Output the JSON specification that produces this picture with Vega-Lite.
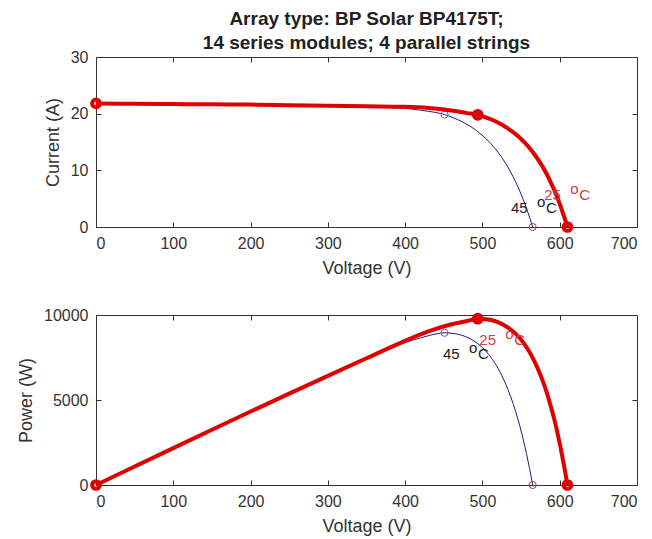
{
  "$schema": "https://vega.github.io/schema/vega-lite/v6.json",
  "background": "white",
  "padding": {"left": 17, "top": 9, "right": 10, "bottom": 2},
  "spacing": 28,
  "config": {
    "font": "Liberation Sans",
    "view": {"stroke": "#333333", "strokeWidth": 1},
    "axis": {
      "grid": false,
      "domainColor": "#333333",
      "tickColor": "#333333",
      "labelColor": "#333333",
      "titleColor": "#333333",
      "labelFont": "Liberation Sans",
      "titleFont": "Liberation Sans",
      "labelFontSize": 16,
      "titleFontSize": 18,
      "titleFontWeight": "normal",
      "tickSize": -5,
      "labelPadding": 13,
      "titlePadding": 8
    }
  },
  "datasets": {
    "iv": [
      {"T": "25", "V": 0, "I": 21.8, "P": 0},
      {"T": "25", "V": 50, "I": 21.75, "P": 1088},
      {"T": "25", "V": 100, "I": 21.7, "P": 2170},
      {"T": "25", "V": 150, "I": 21.65, "P": 3248},
      {"T": "25", "V": 200, "I": 21.6, "P": 4320},
      {"T": "25", "V": 250, "I": 21.5, "P": 5375},
      {"T": "25", "V": 300, "I": 21.4, "P": 6420},
      {"T": "25", "V": 350, "I": 21.3, "P": 7455},
      {"T": "25", "V": 400, "I": 21.2, "P": 8480},
      {"T": "25", "V": 430, "I": 21.0, "P": 9030},
      {"T": "25", "V": 460, "I": 20.55, "P": 9453},
      {"T": "25", "V": 480, "I": 20.1, "P": 9648},
      {"T": "25", "V": 494, "I": 19.8, "P": 9781},
      {"T": "25", "V": 505, "I": 19.3, "P": 9747},
      {"T": "25", "V": 516, "I": 18.7, "P": 9649},
      {"T": "25", "V": 527, "I": 17.9, "P": 9433},
      {"T": "25", "V": 537, "I": 17.0, "P": 9129},
      {"T": "25", "V": 548, "I": 15.8, "P": 8658},
      {"T": "25", "V": 559, "I": 14.25, "P": 7966},
      {"T": "25", "V": 568, "I": 12.7, "P": 7214},
      {"T": "25", "V": 576, "I": 11.05, "P": 6365},
      {"T": "25", "V": 583, "I": 9.4, "P": 5480},
      {"T": "25", "V": 589, "I": 7.7, "P": 4535},
      {"T": "25", "V": 594, "I": 6.2, "P": 3683},
      {"T": "25", "V": 598, "I": 4.8, "P": 2870},
      {"T": "25", "V": 601, "I": 3.7, "P": 2224},
      {"T": "25", "V": 604, "I": 2.5, "P": 1510},
      {"T": "25", "V": 607, "I": 1.3, "P": 789},
      {"T": "25", "V": 610, "I": 0, "P": 0},
      {"T": "45", "V": 0, "I": 21.85, "P": 0},
      {"T": "45", "V": 50, "I": 21.8, "P": 1090},
      {"T": "45", "V": 100, "I": 21.75, "P": 2175},
      {"T": "45", "V": 150, "I": 21.65, "P": 3248},
      {"T": "45", "V": 200, "I": 21.55, "P": 4310},
      {"T": "45", "V": 250, "I": 21.45, "P": 5363},
      {"T": "45", "V": 300, "I": 21.35, "P": 6405},
      {"T": "45", "V": 350, "I": 21.2, "P": 7420},
      {"T": "45", "V": 400, "I": 20.95, "P": 8380},
      {"T": "45", "V": 420, "I": 20.6, "P": 8652},
      {"T": "45", "V": 440, "I": 20.2, "P": 8888},
      {"T": "45", "V": 451, "I": 19.85, "P": 8952},
      {"T": "45", "V": 462, "I": 19.3, "P": 8917},
      {"T": "45", "V": 473, "I": 18.63, "P": 8812},
      {"T": "45", "V": 484, "I": 17.79, "P": 8610},
      {"T": "45", "V": 494, "I": 16.83, "P": 8314},
      {"T": "45", "V": 505, "I": 15.53, "P": 7843},
      {"T": "45", "V": 516, "I": 13.91, "P": 7178},
      {"T": "45", "V": 525, "I": 12.27, "P": 6442},
      {"T": "45", "V": 533, "I": 10.55, "P": 5623},
      {"T": "45", "V": 540, "I": 8.79, "P": 4747},
      {"T": "45", "V": 546, "I": 7.07, "P": 3860},
      {"T": "45", "V": 551, "I": 5.47, "P": 3014},
      {"T": "45", "V": 555, "I": 4.06, "P": 2253},
      {"T": "45", "V": 559, "I": 2.53, "P": 1414},
      {"T": "45", "V": 563, "I": 0.88, "P": 495},
      {"T": "45", "V": 565, "I": 0, "P": 0}
    ],
    "pts": [
      {"T": "25", "kind": "isc", "V": 0, "I": 21.8, "P": 0},
      {"T": "25", "kind": "mpp", "V": 494, "I": 19.8, "P": 9781},
      {"T": "25", "kind": "voc", "V": 610, "I": 0, "P": 0},
      {"T": "45", "kind": "isc", "V": 0, "I": 21.85, "P": 0},
      {"T": "45", "kind": "mpp", "V": 451, "I": 19.85, "P": 8952},
      {"T": "45", "kind": "voc", "V": 565, "I": 0, "P": 0}
    ],
    "annTop": [
      {"T": "25", "V": 580, "I": 4.8},
      {"T": "45", "V": 537, "I": 2.5}
    ],
    "annBot": [
      {"T": "25", "V": 496, "P": 8260},
      {"T": "45", "V": 449, "P": 7420}
    ]
  },
  "vconcat": [
    {
      "width": 541,
      "height": 170,
      "title": {
        "text": ["Array type: BP Solar BP4175T;", "14 series modules; 4 parallel strings"],
        "font": "Liberation Sans",
        "fontSize": 19,
        "fontWeight": "bold",
        "color": "#222222",
        "anchor": "middle",
        "lineHeight": 24,
        "offset": -4
      },
      "resolve": {"axis": {"x": "independent", "y": "independent"}},
      "layer": [
        {
          "layer": [
            {
              "data": {"name": "iv"},
              "transform": [{"filter": "datum.T == '45'"}],
              "mark": {"type": "line", "color": "#1c1c80", "strokeWidth": 1, "interpolate": "monotone"},
              "encoding": {
                "x": {"field": "V", "type": "quantitative", "scale": {"domain": [0, 700], "nice": false},
                      "axis": {"values": [0, 100, 200, 300, 400, 500, 600, 700], "title": "Voltage (V)"}},
                "y": {"field": "I", "type": "quantitative", "scale": {"domain": [0, 30], "nice": false},
                      "axis": {"values": [0, 10, 20, 30], "title": "Current (A)"}},
                "order": {"field": "V", "type": "quantitative"}
              }
            },
            {
              "data": {"name": "pts"},
              "transform": [{"filter": "datum.T == '45' && datum.kind == 'mpp'"}],
              "mark": {"type": "point", "shape": "circle", "filled": false, "stroke": "#8050c0", "strokeWidth": 1, "size": 50, "opacity": 1},
              "encoding": {"x": {"field": "V", "type": "quantitative"}, "y": {"field": "I", "type": "quantitative"}}
            },
            {
              "data": {"name": "pts"},
              "transform": [{"filter": "datum.T == '45' && datum.kind != 'mpp'"}],
              "mark": {"type": "point", "shape": "circle", "filled": false, "stroke": "#a03858", "strokeWidth": 1, "size": 50, "opacity": 1},
              "encoding": {"x": {"field": "V", "type": "quantitative"}, "y": {"field": "I", "type": "quantitative"}}
            },
            {
              "data": {"name": "iv"},
              "transform": [{"filter": "datum.T == '25'"}],
              "mark": {"type": "line", "color": "#e00000", "strokeWidth": 4, "interpolate": "monotone"},
              "encoding": {
                "x": {"field": "V", "type": "quantitative"},
                "y": {"field": "I", "type": "quantitative"},
                "order": {"field": "V", "type": "quantitative"}
              }
            },
            {
              "data": {"name": "pts"},
              "transform": [{"filter": "datum.T == '25'"}],
              "mark": {"type": "point", "shape": "circle", "filled": false, "stroke": "#e00000", "strokeWidth": 4, "size": 60, "opacity": 1},
              "encoding": {"x": {"field": "V", "type": "quantitative"}, "y": {"field": "I", "type": "quantitative"}}
            },
            {
              "data": {"name": "annTop"},
              "mark": {"type": "text", "align": "left", "baseline": "alphabetic", "fontSize": 15},
              "encoding": {
                "x": {"field": "V", "type": "quantitative"},
                "y": {"field": "I", "type": "quantitative"},
                "text": {"field": "T"},
                "color": {"field": "T", "type": "nominal", "scale": {"domain": ["25", "45"], "range": ["#d23c3c", "#1a1a1a"]}, "legend": null}
              }
            },
            {
              "data": {"name": "annTop"},
              "mark": {"type": "text", "align": "left", "baseline": "alphabetic", "fontSize": 15, "text": "o", "dx": 26, "dy": -6},
              "encoding": {
                "x": {"field": "V", "type": "quantitative"},
                "y": {"field": "I", "type": "quantitative"},
                "color": {"field": "T", "type": "nominal", "legend": null}
              }
            },
            {
              "data": {"name": "annTop"},
              "mark": {"type": "text", "align": "left", "baseline": "alphabetic", "fontSize": 15, "text": "C", "dx": 35},
              "encoding": {
                "x": {"field": "V", "type": "quantitative"},
                "y": {"field": "I", "type": "quantitative"},
                "color": {"field": "T", "type": "nominal", "legend": null}
              }
            }
          ]
        },
        {
          "data": {"name": "pts"},
          "mark": {"type": "point", "opacity": 0},
          "encoding": {
            "x": {"field": "V", "type": "quantitative",
                  "axis": {"orient": "top", "labels": false, "domain": false, "title": null, "values": [100, 200, 300, 400, 500, 600]}},
            "y": {"field": "I", "type": "quantitative",
                  "axis": {"orient": "right", "labels": false, "domain": false, "title": null, "values": [10, 20]}}
          }
        }
      ]
    },
    {
      "width": 541,
      "height": 170,
      "resolve": {"axis": {"x": "independent", "y": "independent"}},
      "layer": [
        {
          "layer": [
            {
              "data": {"name": "iv"},
              "transform": [{"filter": "datum.T == '45'"}],
              "mark": {"type": "line", "color": "#1c1c80", "strokeWidth": 1, "interpolate": "monotone"},
              "encoding": {
                "x": {"field": "V", "type": "quantitative", "scale": {"domain": [0, 700], "nice": false},
                      "axis": {"values": [0, 100, 200, 300, 400, 500, 600, 700], "title": "Voltage (V)"}},
                "y": {"field": "P", "type": "quantitative", "scale": {"domain": [0, 10000], "nice": false},
                      "axis": {"values": [0, 5000, 10000], "format": "d", "title": "Power (W)"}},
                "order": {"field": "V", "type": "quantitative"}
              }
            },
            {
              "data": {"name": "pts"},
              "transform": [{"filter": "datum.T == '45' && datum.kind == 'mpp'"}],
              "mark": {"type": "point", "shape": "circle", "filled": false, "stroke": "#8050c0", "strokeWidth": 1, "size": 50, "opacity": 1},
              "encoding": {"x": {"field": "V", "type": "quantitative"}, "y": {"field": "P", "type": "quantitative"}}
            },
            {
              "data": {"name": "pts"},
              "transform": [{"filter": "datum.T == '45' && datum.kind != 'mpp'"}],
              "mark": {"type": "point", "shape": "circle", "filled": false, "stroke": "#a03858", "strokeWidth": 1, "size": 50, "opacity": 1},
              "encoding": {"x": {"field": "V", "type": "quantitative"}, "y": {"field": "P", "type": "quantitative"}}
            },
            {
              "data": {"name": "iv"},
              "transform": [{"filter": "datum.T == '25'"}],
              "mark": {"type": "line", "color": "#e00000", "strokeWidth": 4, "interpolate": "monotone"},
              "encoding": {
                "x": {"field": "V", "type": "quantitative"},
                "y": {"field": "P", "type": "quantitative"},
                "order": {"field": "V", "type": "quantitative"}
              }
            },
            {
              "data": {"name": "pts"},
              "transform": [{"filter": "datum.T == '25'"}],
              "mark": {"type": "point", "shape": "circle", "filled": false, "stroke": "#e00000", "strokeWidth": 4, "size": 60, "opacity": 1},
              "encoding": {"x": {"field": "V", "type": "quantitative"}, "y": {"field": "P", "type": "quantitative"}}
            },
            {
              "data": {"name": "annBot"},
              "mark": {"type": "text", "align": "left", "baseline": "alphabetic", "fontSize": 15},
              "encoding": {
                "x": {"field": "V", "type": "quantitative"},
                "y": {"field": "P", "type": "quantitative"},
                "text": {"field": "T"},
                "color": {"field": "T", "type": "nominal", "scale": {"domain": ["25", "45"], "range": ["#d23c3c", "#1a1a1a"]}, "legend": null}
              }
            },
            {
              "data": {"name": "annBot"},
              "mark": {"type": "text", "align": "left", "baseline": "alphabetic", "fontSize": 15, "text": "o", "dx": 26, "dy": -6},
              "encoding": {
                "x": {"field": "V", "type": "quantitative"},
                "y": {"field": "P", "type": "quantitative"},
                "color": {"field": "T", "type": "nominal", "legend": null}
              }
            },
            {
              "data": {"name": "annBot"},
              "mark": {"type": "text", "align": "left", "baseline": "alphabetic", "fontSize": 15, "text": "C", "dx": 35},
              "encoding": {
                "x": {"field": "V", "type": "quantitative"},
                "y": {"field": "P", "type": "quantitative"},
                "color": {"field": "T", "type": "nominal", "legend": null}
              }
            }
          ]
        },
        {
          "data": {"name": "pts"},
          "mark": {"type": "point", "opacity": 0},
          "encoding": {
            "x": {"field": "V", "type": "quantitative",
                  "axis": {"orient": "top", "labels": false, "domain": false, "title": null, "values": [100, 200, 300, 400, 500, 600]}},
            "y": {"field": "P", "type": "quantitative",
                  "axis": {"orient": "right", "labels": false, "domain": false, "title": null, "values": [5000]}}
          }
        }
      ]
    }
  ]
}
